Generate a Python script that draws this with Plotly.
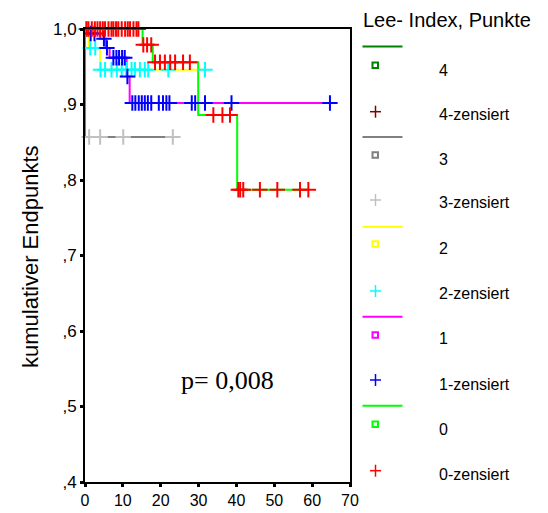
import plotly.graph_objects as go

# ---------------- data ----------------
# Group 0 (Lee index 0): step curve + censored marks
g0_t = [0, 15.2, 17.9, 29.9, 40.2, 59.0]
g0_s = [1.0, 0.979, 0.956, 0.886, 0.787, 0.787]
g0_ct = [0.4, 0.9, 1.8, 2.6, 3.3, 4.0, 4.7, 5.3, 6.2, 7.0, 7.5, 8.2, 8.8, 9.7,
         10.6, 11.3, 11.9, 12.8, 13.6, 14.1,
         15.4, 16.4, 17.5,
         18.5, 19.8, 21.1, 22.5, 23.8, 25.9, 27.7,
         33.9, 36.3, 38.3,
         40.5, 41.0, 41.8, 46.2, 50.8, 56.8, 59.0]
g0_cs = [1.0] * 20 + [0.979] * 3 + [0.956] * 7 + [0.886] * 3 + [0.787] * 7

# Group 1
g1_t = [0, 0.5, 4.0, 5.5, 6.5, 11.0, 11.8, 65.0]
g1_s = [1.0, 0.994, 0.987, 0.975, 0.962, 0.937, 0.902, 0.902]
g1_ct = [1.5, 2.5,
         5.0,
         5.8,
         7.5, 8.3, 9.0, 9.8, 10.5,
         11.2,
         12.5, 13.3, 14.2, 15.0, 15.8, 16.6, 17.5, 19.5, 20.6, 21.5, 22.3,
         28.2, 29.1, 31.7, 38.7, 64.7]
g1_cs = [0.994] * 2 + [0.987] + [0.975] + [0.962] * 5 + [0.937] + [0.902] * 16

# Group 2
g2_t = [0, 1.0, 4.0, 31.7]
g2_s = [1.0, 0.975, 0.946, 0.946]
g2_ct = [0.3, 1.4, 2.7,
         4.1, 5.3, 7.0, 8.4, 9.7, 11.0, 12.3, 13.2, 14.5, 15.8, 16.7, 22.0, 31.7]
g2_cs = [1.0] + [0.975] * 2 + [0.946] * 13

# Group 3
g3_t = [0, 0.01, 24.2]
g3_s = [1.0, 0.857, 0.857]
g3_ct = [1.1, 4.0, 10.1, 23.2]
g3_cs = [0.857] * 4

x_ticks = [0, 10, 20, 30, 40, 50, 60, 70]
y_ticks = [0.4, 0.5, 0.6, 0.7, 0.8, 0.9, 1.0]
y_ticktext = [",4", ",5", ",6", ",7", ",8", ",9", "1,0"]

legend_title = "Lee- Index, Punkte"
legend_groups = ["4", "3", "2", "1", "0"]
line_colors = ["#008000", "#808080", "#ffff00", "#ff00ff", "#00ff00"]
cens_colors = ["#800000", "#c0c0c0", "#00ffff", "#0000ff", "#ff0000"]

# ---------------- figure ----------------
W, H = 548, 513
L, R, T, B = 85, 198, 29, 31
fig = go.Figure()

curves = [
    (g3_t, g3_s, g3_ct, g3_cs, 1),
    (g2_t, g2_s, g2_ct, g2_cs, 2),
    (g1_t, g1_s, g1_ct, g1_cs, 3),
    (g0_t, g0_s, g0_ct, g0_cs, 4),
]
for t, s, ct, cs, idx in curves:
    fig.add_trace(go.Scatter(x=t, y=s, mode="lines", line_shape="hv",
                             line=dict(color=line_colors[idx], width=2),
                             showlegend=False, hoverinfo="skip", cliponaxis=False))
for t, s, ct, cs, idx in curves:
    fig.add_trace(go.Scatter(x=ct, y=cs, mode="markers",
                             marker=dict(symbol="cross-thin", size=11,
                                         line=dict(color=cens_colors[idx], width=2)),
                             showlegend=False, cliponaxis=False))


def px(xp):
    return (xp - L) / (W - L - R)


def py(yp):
    return (H - B - yp) / (H - T - B)


shapes = []
annotations = []
line_y = [46.5, 137, 226.7, 316.7, 405.7]
sq_y = [65.3, 155, 244, 335, 424.3]
cr_y = [111.7, 200, 291, 380, 470.7]
lab_y = [70.5, 114.5, 159, 203, 248.5, 293, 338.5, 384, 429.5, 474]
for i, g in enumerate(legend_groups):
    shapes.append(dict(type="line", xref="paper", yref="paper",
                       x0=px(362.5), x1=px(402.5), y0=py(line_y[i]), y1=py(line_y[i]),
                       line=dict(color=line_colors[i], width=2)))
    shapes.append(dict(type="rect", xref="paper", yref="paper",
                       x0=px(372.5), x1=px(378), y0=py(sq_y[i] - 2.7), y1=py(sq_y[i] + 2.7),
                       line=dict(color=line_colors[i], width=2)))
    shapes.append(dict(type="line", xref="paper", yref="paper",
                       x0=px(370), x1=px(381), y0=py(cr_y[i]), y1=py(cr_y[i]),
                       line=dict(color=cens_colors[i], width=1.5)))
    shapes.append(dict(type="line", xref="paper", yref="paper",
                       x0=px(375.5), x1=px(375.5), y0=py(cr_y[i] - 6), y1=py(cr_y[i] + 6),
                       line=dict(color=cens_colors[i], width=1.5)))
    annotations.append(dict(text=g, xref="paper", yref="paper", x=px(436.5), y=py(lab_y[2 * i]),
                            xanchor="left", yanchor="middle", showarrow=False,
                            font=dict(family="Liberation Sans, Arial", size=16, color="#000")))
    annotations.append(dict(text=g + "-zensiert", xref="paper", yref="paper", x=px(436.5),
                            y=py(lab_y[2 * i + 1]), xanchor="left", yanchor="middle",
                            showarrow=False,
                            font=dict(family="Liberation Sans, Arial", size=16, color="#000")))

annotations.append(dict(text=legend_title, xref="paper", yref="paper", x=px(361), y=py(20),
                        xanchor="left", yanchor="middle", showarrow=False,
                        font=dict(family="Liberation Sans, Arial", size=20, color="#000")))
annotations.append(dict(text="kumulativer Endpunkts", xref="paper", yref="paper",
                        x=px(30), y=py(257), textangle=-90, xanchor="center", yanchor="middle",
                        showarrow=False,
                        font=dict(family="Liberation Sans, Arial", size=22, color="#000")))
annotations.append(dict(text="p= 0,008", xref="x", yref="y", x=37.6, y=0.5345,
                        xanchor="center", yanchor="middle", showarrow=False,
                        font=dict(family="Liberation Serif, Times New Roman", size=26,
                                  color="#000")))

fig.update_layout(
    width=W, height=H,
    margin=dict(l=L, r=R, t=T, b=B, pad=0, autoexpand=False),
    paper_bgcolor="white", plot_bgcolor="white",
    showlegend=False,
    shapes=shapes, annotations=annotations,
    font=dict(family="Liberation Sans, Arial", size=16, color="#000"),
)
fig.update_xaxes(range=[0, 70], tickvals=x_ticks, ticktext=[str(v) for v in x_ticks],
                 showgrid=False, zeroline=False, showline=True, mirror=True, automargin=False,
                 linecolor="black", linewidth=2, ticks="outside", ticklen=3, tickwidth=3,
                 tickcolor="black", tickfont=dict(size=16))
fig.update_yaxes(range=[0.4, 1.0], tickvals=y_ticks, ticktext=y_ticktext,
                 showgrid=False, zeroline=False, showline=True, mirror=True, automargin=False,
                 linecolor="black", linewidth=2, ticks="outside", ticklen=3, tickwidth=3,
                 tickcolor="black", tickfont=dict(size=17))

fig.write_html("out.html")
